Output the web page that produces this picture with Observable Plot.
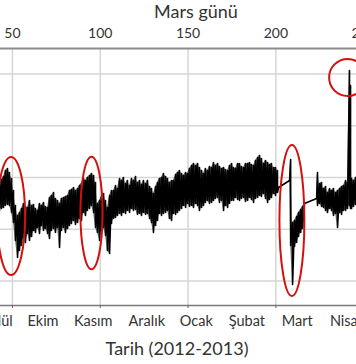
<!DOCTYPE html>
<html>
<head>
<meta charset="utf-8">
<script src="https://cdn.jsdelivr.net/npm/d3@7"></script>
<script src="https://cdn.jsdelivr.net/npm/@observablehq/plot@0.6"></script>
<style>
  html, body { margin: 0; padding: 0; background: #fff; overflow: hidden; }
  #chart { width: 356px; height: 364px; }
</style>
</head>
<body>
<div id="chart"></div>
<script>
// Sample positions (Mars sol) with the upper and lower edge of the noisy trace at each.
const sol = [
  42.6, 43.8, 44.9, 46.0, 47.2, 48.3, 49.5, 50.6, 51.7, 52.9,
  54.0, 55.2, 56.3, 57.4, 58.6, 59.7, 60.9, 62.0, 63.1, 64.3,
  65.4, 66.5, 67.7, 68.8, 70.0, 71.1, 72.2, 73.4, 74.5, 75.7,
  76.8, 77.9, 79.1, 80.2, 81.4, 82.5, 83.6, 84.8, 85.9, 87.1,
  88.2, 89.3, 90.5, 91.6, 92.7, 93.9, 95.0, 96.2, 97.3, 98.4,
  99.6, 100.7, 101.9, 103.0, 104.1, 105.3, 106.4, 107.6, 108.7, 109.8,
  111.0, 112.1, 113.2, 114.4, 115.5, 116.7, 117.8, 118.9, 120.1, 121.2,
  122.4, 123.5, 124.6, 125.8, 126.9, 128.1, 129.2, 130.3, 131.5, 132.6,
  133.7, 134.9, 136.0, 137.2, 138.3, 139.4, 140.6, 141.7, 142.9, 144.0,
  145.1, 146.3, 147.4, 148.6, 149.7, 150.8, 152.0, 153.1, 154.3, 155.4,
  156.5, 157.7, 158.8, 159.9, 161.1, 162.2, 163.4, 164.5, 165.6, 166.8,
  167.9, 169.1, 170.2, 171.3, 172.5, 173.6, 174.8, 175.9, 177.0, 178.2,
  179.3, 180.4, 181.6, 182.7, 183.9, 185.0, 186.1, 187.3, 188.4, 189.6,
  190.7, 191.8, 193.0, 194.1, 195.3, 196.4, 197.5, 198.7, 199.8, 200.9,
  201.5, 207.8, 208.4, 209.5, 210.6, 211.8, 212.9, 214.1, 215.2, 216.3,
  223.2, 223.7, 224.9, 226.0, 227.1, 228.3, 229.4, 230.6, 231.7, 232.8,
  234.0, 235.1, 236.3, 237.4, 238.5, 239.7, 240.8, 241.9, 242.5, 243.1,
  244.2, 245.4, 246.5
];
const hi = [
  246.1, 248.1, 250.9, 256.7, 258.7, 254.8, 249.0, 237.4, 222.9, 213.3,
  216.2, 220.0, 224.9, 222.0, 221.0, 227.8, 222.9, 223.9, 220.0, 218.1,
  224.9, 222.9, 225.8, 222.0, 221.0, 230.7, 232.6, 235.5, 229.7, 227.8,
  224.9, 229.7, 230.7, 231.6, 232.6, 237.4, 238.4, 240.3, 237.4, 239.4,
  242.3, 244.2, 249.0, 247.1, 250.0, 251.9, 253.8, 251.9, 245.2, 224.9,
  227.8, 231.6, 234.5, 227.8, 221.0, 232.6, 237.4, 237.4, 242.3, 239.4,
  249.0, 247.1, 250.0, 244.2, 247.1, 242.3, 249.0, 247.1, 250.9, 245.2,
  247.1, 243.2, 247.1, 244.2, 247.1, 241.3, 239.4, 234.5, 241.3, 245.2,
  249.0, 250.0, 253.8, 250.9, 249.0, 245.2, 247.1, 247.1, 252.9, 254.8,
  256.7, 253.8, 251.9, 254.8, 253.8, 258.7, 261.6, 263.5, 261.6, 263.5,
  259.6, 256.7, 253.8, 258.7, 256.7, 260.6, 259.6, 264.5, 261.6, 263.5,
  260.6, 258.7, 259.6, 257.7, 256.7, 261.6, 263.5, 259.6, 258.7, 263.5,
  263.5, 260.6, 259.6, 263.5, 263.5, 264.5, 262.5, 261.6, 266.4, 269.3,
  271.2, 268.3, 263.5, 266.4, 264.5, 262.5, 263.5, 259.6, 259.6, 256.7,
  240.3, 247.1, 267.4, 206.5, 208.4, 212.3, 216.2, 219.1, 222.0, 224.9,
  229.7, 254.8, 244.2, 245.2, 239.4, 241.3, 235.5, 239.4, 237.4, 239.4,
  235.5, 237.4, 239.4, 241.3, 242.3, 247.1, 245.2, 353.4, 338.9, 249.0,
  247.1, 250.0, 249.0
];
const lo = [
  218.1, 220.0, 221.0, 222.9, 223.9, 222.9, 216.2, 206.5, 189.1, 172.7,
  179.5, 184.3, 192.0, 187.2, 195.9, 189.1, 193.0, 198.8, 196.8, 201.7,
  195.9, 203.6, 198.8, 200.7, 195.9, 191.0, 198.8, 200.7, 196.8, 201.7,
  182.4, 198.8, 201.7, 196.8, 200.7, 203.6, 205.5, 208.4, 204.6, 206.5,
  210.4, 208.4, 216.2, 213.3, 218.1, 220.0, 222.9, 216.2, 201.7, 196.8,
  189.1, 198.8, 201.7, 193.9, 179.5, 176.6, 205.5, 210.4, 211.3, 213.3,
  215.2, 213.3, 216.2, 215.2, 218.1, 216.2, 220.0, 218.1, 219.1, 214.2,
  215.2, 213.3, 216.2, 214.2, 215.2, 210.4, 206.5, 196.8, 203.6, 208.4,
  215.2, 213.3, 215.2, 216.2, 218.1, 210.4, 208.4, 215.2, 214.2, 216.2,
  218.1, 220.0, 222.9, 221.0, 224.9, 222.0, 222.9, 221.0, 224.9, 222.9,
  218.1, 221.0, 222.9, 225.8, 227.8, 224.9, 225.8, 227.8, 229.7, 230.7,
  225.8, 227.8, 218.1, 222.9, 221.0, 224.9, 227.8, 227.8, 230.7, 228.7,
  227.8, 229.7, 230.7, 226.8, 227.8, 230.7, 228.7, 225.8, 229.7, 230.7,
  232.6, 231.6, 234.5, 229.7, 225.8, 228.7, 230.7, 234.5, 232.6, 235.5,
  240.3, 247.1, 184.3, 146.6, 183.3, 187.2, 193.0, 196.8, 200.7, 224.9,
  229.7, 222.9, 224.9, 222.0, 221.0, 218.1, 216.2, 220.0, 218.1, 213.3,
  215.2, 201.7, 216.2, 214.2, 218.1, 218.1, 220.0, 222.9, 220.0, 220.0,
  222.0, 223.9, 222.9
];

// Axis ticks and labels
const solTicks = [50, 100, 150, 200, 250];
const gridSols = [50, 100, 150, 200];
const doseGrid = [150, 200, 250, 300, 350];
const months = ["Eylül", "Ekim", "Kasım", "Aralık", "Ocak", "Şubat", "Mart", "Nisan"];
const monthSols = [41.5, 67.4, 96.0, 126.5, 154.7, 183.5, 212.2, 241.0];

// Annotation ellipses (centre sol, centre value, half-width in sol, half-height in value)
const markSol = [49.5, 95.3, 209.4, 241.1];
const markVal = [212.3, 215.2, 208.0, 346.1];
const markRxSol = [8.0, 6.3, 7.1, 10.5];
const markRyVal = [57.0, 54.4, 72.9, 17.9];

const topTitle = "Mars günü";
const bottomTitle = "Tarih (2012-2013)";

const trace = [];
sol.forEach((s, i) => {
  trace.push({sol: s, dose: hi[i]});
  trace.push({sol: s, dose: lo[i]});
});
const marks = markSol.map((s, i) => ({sol: s, val: markVal[i], rx: markRxSol[i], ry: markRyVal[i]}));

const font = "Lato, 'Open Sans', sans-serif";
const textColor = "#333333";

const chart = Plot.plot({
  width: 356,
  height: 364,
  marginLeft: 0,
  marginRight: 0,
  marginTop: 48,
  marginBottom: 59,
  x: {domain: [43.2, 245.9], axis: null},
  y: {domain: [126.3, 374.6], axis: null},
  style: {fontFamily: font, fontSize: "13px", color: textColor, background: "#fff", overflow: "visible"},
  marks: [
    Plot.gridX({ticks: gridSols, stroke: "#d6d6d6", strokeOpacity: 1, strokeWidth: 1.5}),
    Plot.gridY({ticks: doseGrid, stroke: "#d6d6d6", strokeOpacity: 1, strokeWidth: 1.5}),
    Plot.frame({anchor: "top", stroke: "#8c8c8c", strokeWidth: 2}),
    Plot.frame({anchor: "bottom", stroke: "#7a7a7a", strokeWidth: 1.5}),
    Plot.axisX({anchor: "bottom", ticks: gridSols, tickSize: 3, tickFormat: () => "", stroke: "#666", label: null}),
    Plot.axisX({anchor: "top", ticks: solTicks, tickSize: 0, tickPadding: 11, fontSize: 14, fill: textColor, label: null}),
    Plot.axisX({anchor: "bottom", ticks: monthSols, tickSize: 0, tickPadding: 10, fontSize: 14.5, fill: textColor,
      tickFormat: d => months[monthSols.indexOf(d)], label: null}),
    Plot.areaY(sol.map((s, i) => ({sol: s, top: hi[i], bottom: lo[i]})),
      {x: "sol", y1: "bottom", y2: "top", fill: "#000", fillOpacity: 0.55, clip: true}),
    Plot.line(trace, {x: "sol", y: "dose", stroke: "#000", strokeWidth: 1.6, clip: true}),
    (index, scales) => {
      const g = d3.create("svg:g").attr("fill", "none").attr("stroke", "#d40f0f").attr("stroke-width", 2);
      for (const m of marks) {
        const cx = scales.x(m.sol), cy = scales.y(m.val);
        g.append("ellipse")
          .attr("cx", cx).attr("cy", cy)
          .attr("rx", Math.abs(scales.x(m.sol + m.rx) - cx))
          .attr("ry", Math.abs(scales.y(m.val + m.ry) - cy));
      }
      return g.node();
    },
    Plot.text([topTitle], {x: [154.5], frameAnchor: "top", lineAnchor: "middle", dy: -36, fontSize: 18, fill: textColor, text: d => d}),
    Plot.text([bottomTitle], {x: [143.7], frameAnchor: "bottom", lineAnchor: "middle", dy: 44, fontSize: 18, fill: textColor, text: d => d})
  ]
});
document.getElementById("chart").append(chart);
</script>
</body>
</html>
